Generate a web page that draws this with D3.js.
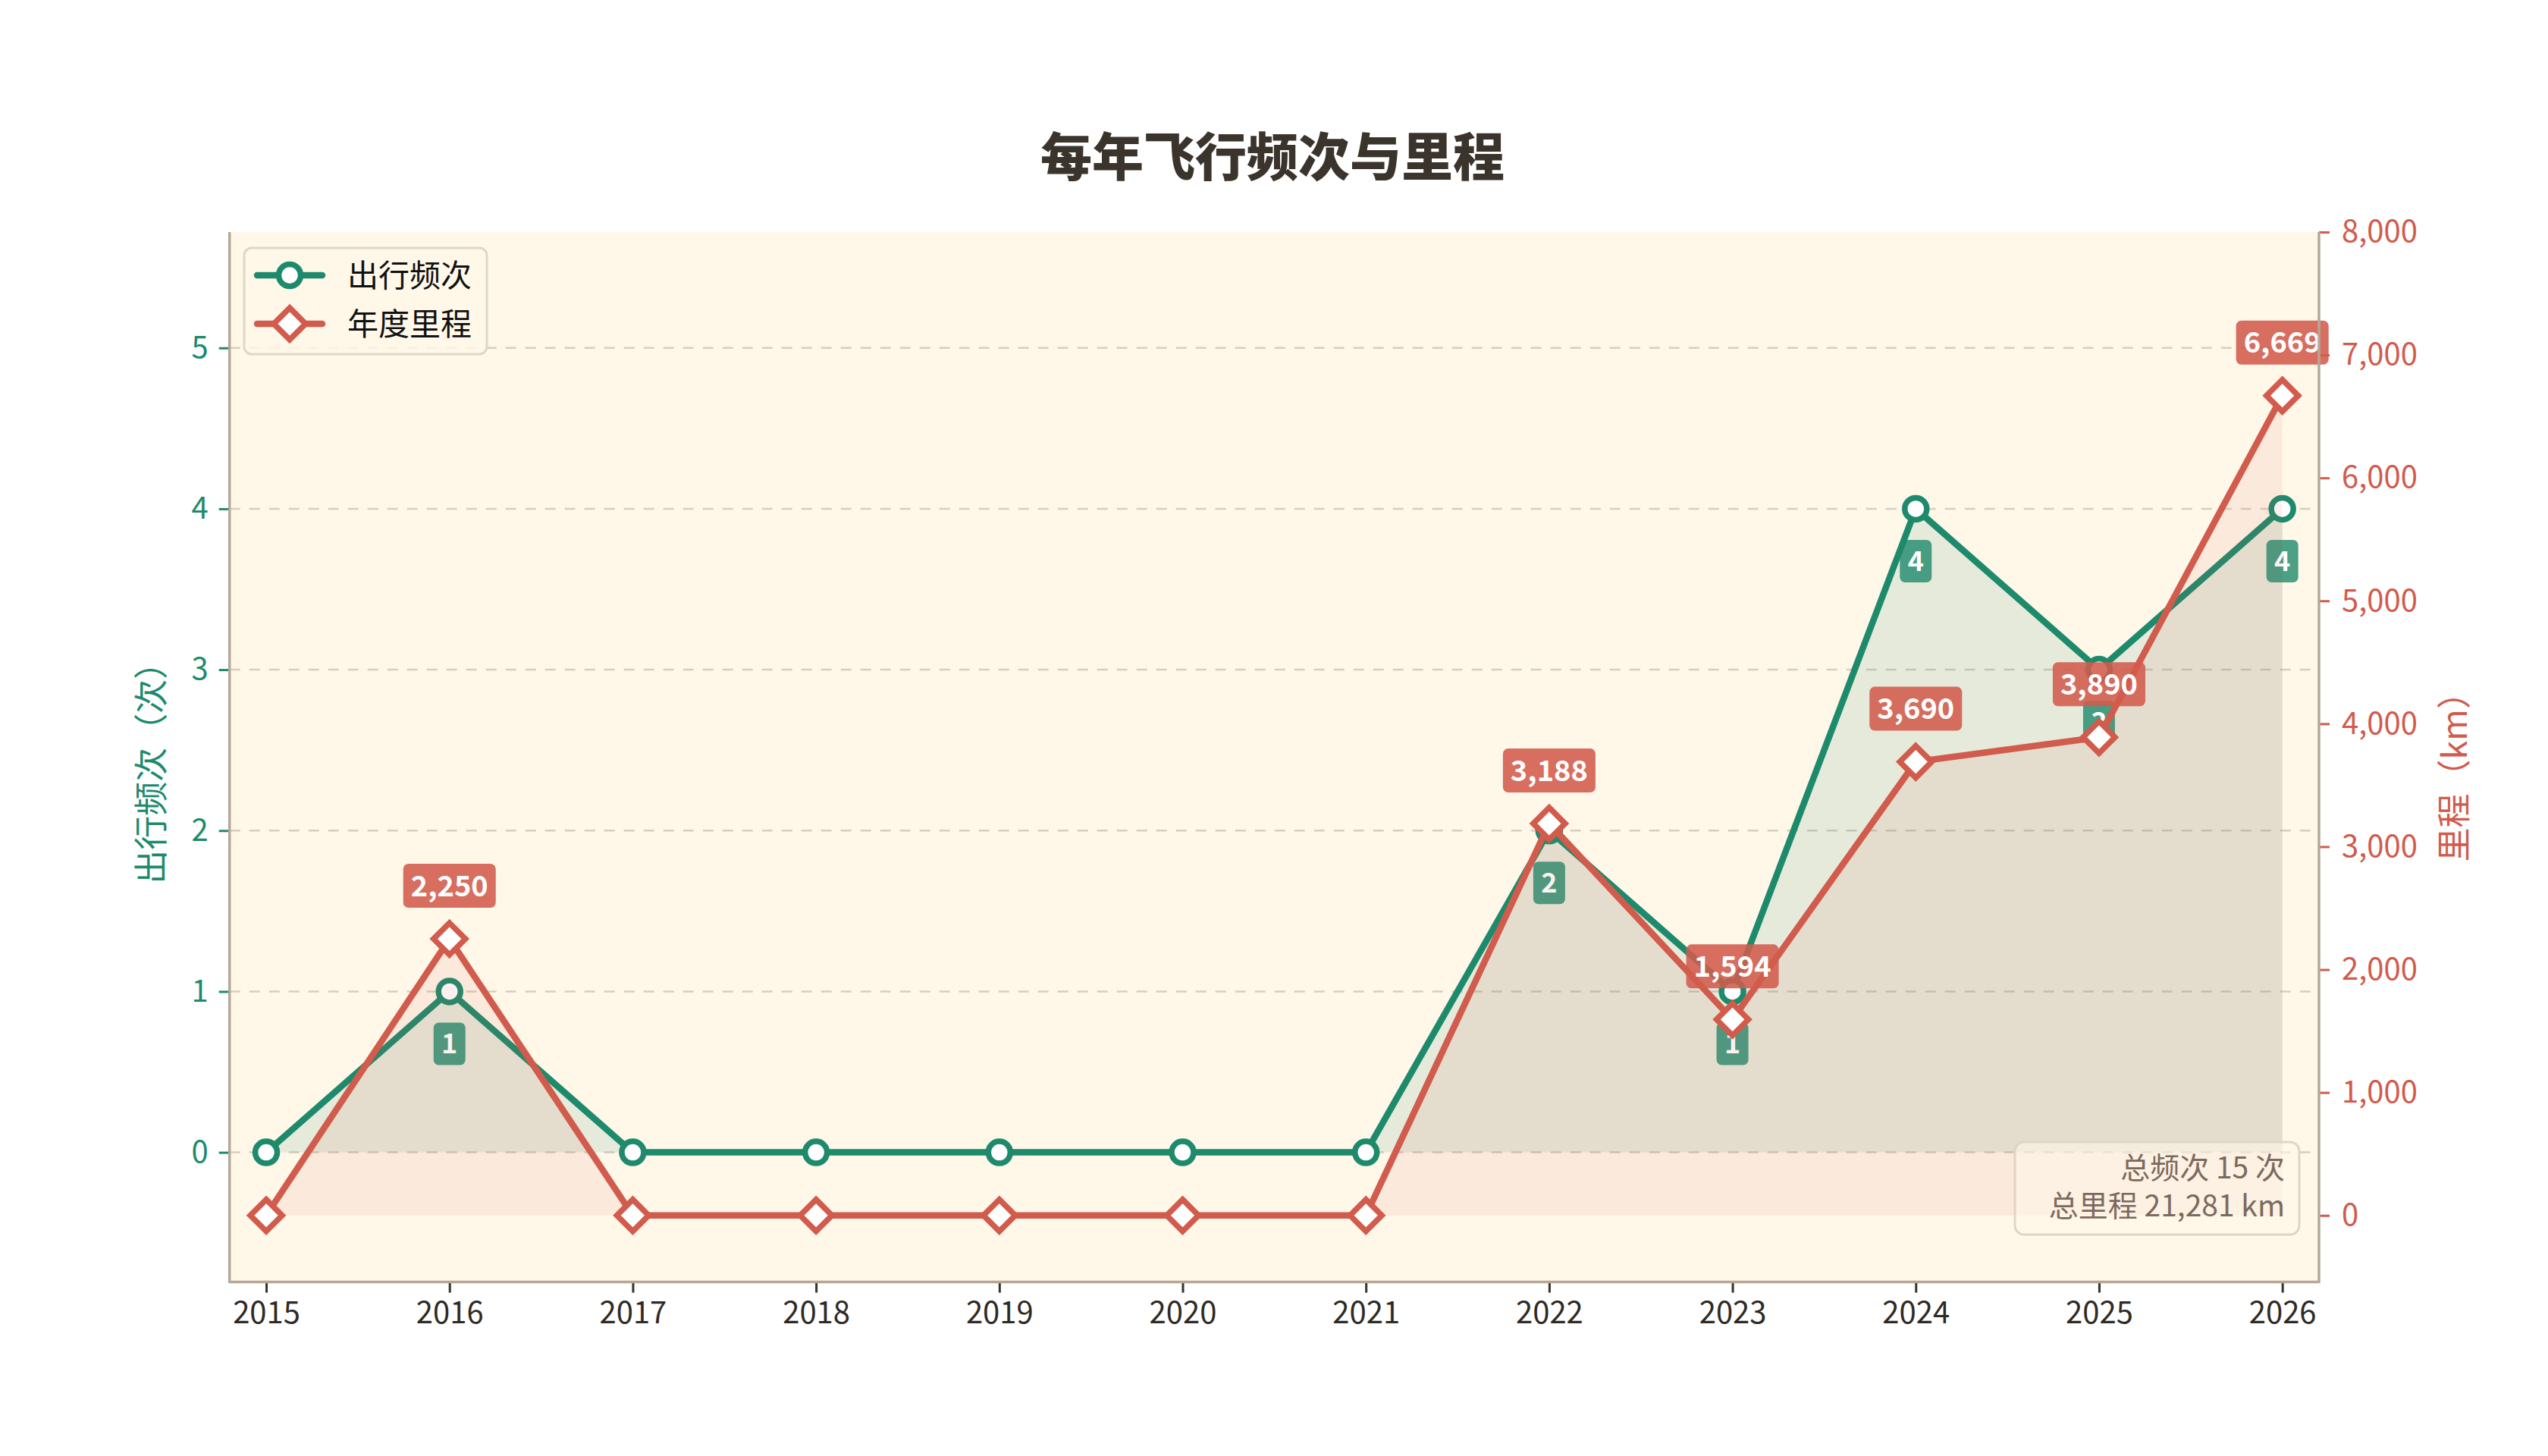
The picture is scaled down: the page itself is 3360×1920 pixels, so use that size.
<!DOCTYPE html>
<html><head><meta charset="utf-8">
<script src="https://cdn.jsdelivr.net/npm/d3@7"></script>
<style>
html,body{margin:0;padding:0;background:#fff;}
svg{display:block;}
text{font-family:"Noto Sans CJK SC","Noto Sans",sans-serif;}
</style></head>
<body>
<svg id="chart" width="3360" height="1920"></svg>
<script>
const years = [2015,2016,2017,2018,2019,2020,2021,2022,2023,2024,2025,2026];
const trips = [0,1,0,0,0,0,0,2,1,4,3,4];
const mileage = [0,2250,0,0,0,0,0,3188,1594,3690,3890,6669];
const leftTicks = [0,1,2,3,4,5];
const rightTicks = [0,1000,2000,3000,4000,5000,6000,7000,8000];
const titleText = "每年飞行频次与里程";
const leftLabel = "出行频次（次）";
const rightLabel = "里程（km）";
const legendLabels = ["出行频次","年度里程"];
const summaryLines = ["总频次 15 次","总里程 21,281 km"];

const GREEN = "#1e8a6c", RED = "#d15b4c";
const L = 302.7, R = 3058, T = 306, B = 1690.6;

const svg = d3.select("#chart");
const x = d3.scaleLinear().domain([2014.8, 2026.2]).range([L, R]);
const yL = d3.scaleLinear().domain([-0.806, 5.72]).range([B, T]);
const yR = d3.scaleLinear().domain([-542, 8000]).range([B, T]);

// plot background
svg.append("rect").attr("x",L).attr("y",T).attr("width",R-L).attr("height",B-T).attr("fill","#fff7e8");

// grid
svg.append("g").selectAll("line").data(leftTicks).join("line")
  .attr("x1",L).attr("x2",R).attr("y1",d=>yL(d)).attr("y2",d=>yL(d))
  .attr("stroke","#d8cebf").attr("stroke-width",2.5).attr("stroke-dasharray","14,12");

const data = years.map((y,i)=>({year:y, t:trips[i], m:mileage[i]}));
const h = 21;

// ---- green layer ----
svg.append("path").datum(data)
  .attr("d", d3.area().x(d=>x(d.year)).y0(yL(0)).y1(d=>yL(d.t)))
  .attr("fill",GREEN).attr("fill-opacity",0.11);
svg.append("path").datum(data)
  .attr("d", d3.line().x(d=>x(d.year)).y(d=>yL(d.t)))
  .attr("fill","none").attr("stroke",GREEN).attr("stroke-width",8.5).attr("stroke-linejoin","round");
svg.append("g").selectAll("circle").data(data).join("circle")
  .attr("cx",d=>x(d.year)).attr("cy",d=>yL(d.t)).attr("r",14.5)
  .attr("fill","#fff").attr("stroke",GREEN).attr("stroke-width",7.5);
const gl = svg.append("g").selectAll("g").data(data.filter(d=>d.t>0)).join("g")
  .attr("transform",d=>`translate(${x(d.year)},${yL(d.t)+69})`);
gl.append("rect").attr("x",-21).attr("y",-28).attr("width",42).attr("height",56).attr("rx",7)
  .attr("fill",GREEN).attr("fill-opacity",0.8);
gl.append("text").text(d=>d.t).attr("text-anchor","middle").attr("dy","0.36em")
  .attr("fill","#fff").attr("font-size",36).attr("font-weight",700);

// ---- red layer ----
svg.append("path").datum(data)
  .attr("d", d3.area().x(d=>x(d.year)).y0(yR(0)).y1(d=>yR(d.m)))
  .attr("fill",RED).attr("fill-opacity",0.085);
svg.append("path").datum(data)
  .attr("d", d3.line().x(d=>x(d.year)).y(d=>yR(d.m)))
  .attr("fill","none").attr("stroke",RED).attr("stroke-width",8.5).attr("stroke-linejoin","round");
svg.append("g").selectAll("path").data(data).join("path")
  .attr("transform",d=>`translate(${x(d.year)},${yR(d.m)})`)
  .attr("d",`M0,${-h}L${h},0L0,${h}L${-h},0Z`)
  .attr("fill","#fff").attr("stroke",RED).attr("stroke-width",7.5).attr("stroke-linejoin","miter");
const fmt = d3.format(",");
const rl = svg.append("g").selectAll("g").data(data.filter(d=>d.m>0)).join("g")
  .attr("transform",d=>`translate(${x(d.year)},${yR(d.m)-70})`);
rl.append("rect").attr("fill",RED).attr("fill-opacity",0.88).attr("rx",7);
rl.append("text").text(d=>fmt(d.m)).attr("text-anchor","middle").attr("dy","0.36em")
  .attr("fill","#fff").attr("font-size",38).attr("font-weight",700);
rl.each(function(){
  const g=d3.select(this); const w=g.select("text").node().getComputedTextLength();
  g.select("rect").attr("x",-(w/2+10)).attr("y",-29).attr("width",w+20).attr("height",58);
});

// axes
const axL = svg.append("g").attr("transform",`translate(${L},0)`)
  .call(d3.axisLeft(yL).tickValues(leftTicks).tickFormat(d3.format("d")).tickSize(14).tickPadding(14));
axL.select(".domain").remove();
axL.selectAll("line").attr("stroke",GREEN).attr("stroke-width",3);
axL.selectAll("text").attr("fill",GREEN).attr("font-size",40).attr("font-family",null);

const axR = svg.append("g").attr("transform",`translate(${R},0)`)
  .call(d3.axisRight(yR).tickValues(rightTicks).tickFormat(fmt).tickSize(14).tickPadding(16));
axR.select(".domain").remove();
axR.selectAll("line").attr("stroke",RED).attr("stroke-width",3);
axR.selectAll("text").attr("fill",RED).attr("font-size",40).attr("font-family",null);

const axB = svg.append("g").attr("transform",`translate(0,${B})`)
  .call(d3.axisBottom(x).tickValues(years).tickFormat(d3.format("d")).tickSize(14).tickPadding(12));
axB.select(".domain").remove();
axB.selectAll("line").attr("stroke","#3a3128").attr("stroke-width",3);
axB.selectAll("text").attr("fill","#2f2a25").attr("font-size",40).attr("font-family",null);

// spines
const SP = "#b5a898";
svg.append("line").attr("x1",L).attr("x2",L).attr("y1",T).attr("y2",B+1.5).attr("stroke",SP).attr("stroke-width",3.5);
svg.append("line").attr("x1",R).attr("x2",R).attr("y1",T).attr("y2",B+1.5).attr("stroke",SP).attr("stroke-width",3.5);
svg.append("line").attr("x1",L).attr("x2",R).attr("y1",B).attr("y2",B).attr("stroke",SP).attr("stroke-width",3.5);

// axis labels
svg.append("text").text(leftLabel).attr("transform",`translate(200,${(T+B)/2+10}) rotate(-90)`)
  .attr("text-anchor","middle").attr("dy","0.35em").attr("fill",GREEN).attr("font-size",45);
svg.append("text").text(rightLabel).attr("transform",`translate(3237,${(T+B)/2+15}) rotate(-90)`)
  .attr("text-anchor","middle").attr("dy","0.35em").attr("fill",RED).attr("font-size",45);

// title
svg.append("text").text(titleText).attr("x",1678).attr("y",208).attr("text-anchor","middle")
  .attr("dy","0.36em").attr("fill","#3b342c").attr("font-size",68).attr("font-weight",900);

// summary box
const sb = svg.append("g");
sb.append("rect").attr("x",2657).attr("y",1506).attr("width",375).attr("height",122).attr("rx",12)
  .attr("fill","#fff7e8").attr("fill-opacity",0.6).attr("stroke","#e0d5c5").attr("stroke-width",3);
sb.selectAll("text").data(summaryLines).join("text").text(d=>d)
  .attr("x",3013).attr("y",(d,i)=>1540+i*50).attr("text-anchor","end").attr("dy","0.36em")
  .attr("fill","#7b6a5d").attr("font-size",39);

// legend
const lg = svg.append("g");
lg.append("rect").attr("x",322).attr("y",327).attr("width",320).attr("height",140).attr("rx",10)
  .attr("fill","#fff7e8").attr("fill-opacity",0.8).attr("stroke","#e0d6c6").attr("stroke-width",3);
const rows = [{c:GREEN,label:legendLabels[0],y:363,shape:"circle"},{c:RED,label:legendLabels[1],y:427,shape:"diamond"}];
rows.forEach(r=>{
  lg.append("line").attr("x1",339).attr("x2",425).attr("y1",r.y).attr("y2",r.y)
    .attr("stroke",r.c).attr("stroke-width",8.5).attr("stroke-linecap","round");
  if(r.shape==="circle"){
    lg.append("circle").attr("cx",382).attr("cy",r.y).attr("r",14.5).attr("fill","#fff").attr("stroke",r.c).attr("stroke-width",7.5);
  } else {
    lg.append("path").attr("transform",`translate(382,${r.y})`).attr("d",`M0,${-h}L${h},0L0,${h}L${-h},0Z`)
      .attr("fill","#fff").attr("stroke",r.c).attr("stroke-width",7.5);
  }
  lg.append("text").text(r.label).attr("x",458).attr("y",r.y).attr("dy","0.36em").attr("fill","#111").attr("font-size",41);
});
</script>
</body></html>
